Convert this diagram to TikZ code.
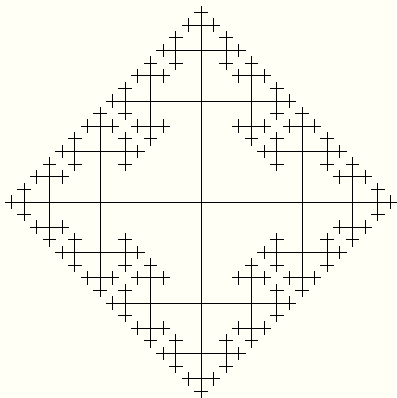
\documentclass[tikz,border=0pt]{standalone}
\definecolor{bgcream}{RGB}{255,255,246}
\newcommand\fbranch[5]{%
 \begingroup
 \pgfmathsetmacro\nx{#1+(#3)}\pgfmathsetmacro\ny{#2+(#4)}%
 \draw[fline] (#1,#2) -- (\nx,\ny);%
 \ifnum#5<5
   \pgfmathsetmacro\hx{(#3)/2}\pgfmathsetmacro\hy{(#4)/2}%
   \pgfmathsetmacro\mhx{-(#3)/2}\pgfmathsetmacro\mhy{-(#4)/2}%
   \edef\fnext{\noexpand\fbranch{\nx}{\ny}{\hx}{\hy}{\the\numexpr#5+1\relax}%
     \noexpand\fbranch{\nx}{\ny}{\hy}{\mhx}{\the\numexpr#5+1\relax}%
     \noexpand\fbranch{\nx}{\ny}{\mhy}{\hx}{\the\numexpr#5+1\relax}}%
   \fnext
 \fi
 \endgroup}
\begin{document}
\begin{tikzpicture}[x=1pt,y=-1pt,fline/.style={line width=0.95pt,black,line cap=rect}]
\fill[bgcream] (0,0) rectangle (396,398);
\useasboundingbox (0,0) rectangle (396,398);
\fbranch{201}{202}{101}{0}{1}
\fbranch{201}{202}{-101}{0}{1}
\fbranch{201}{202}{0}{101}{1}
\fbranch{201}{202}{0}{-101}{1}
\end{tikzpicture}
\end{document}
